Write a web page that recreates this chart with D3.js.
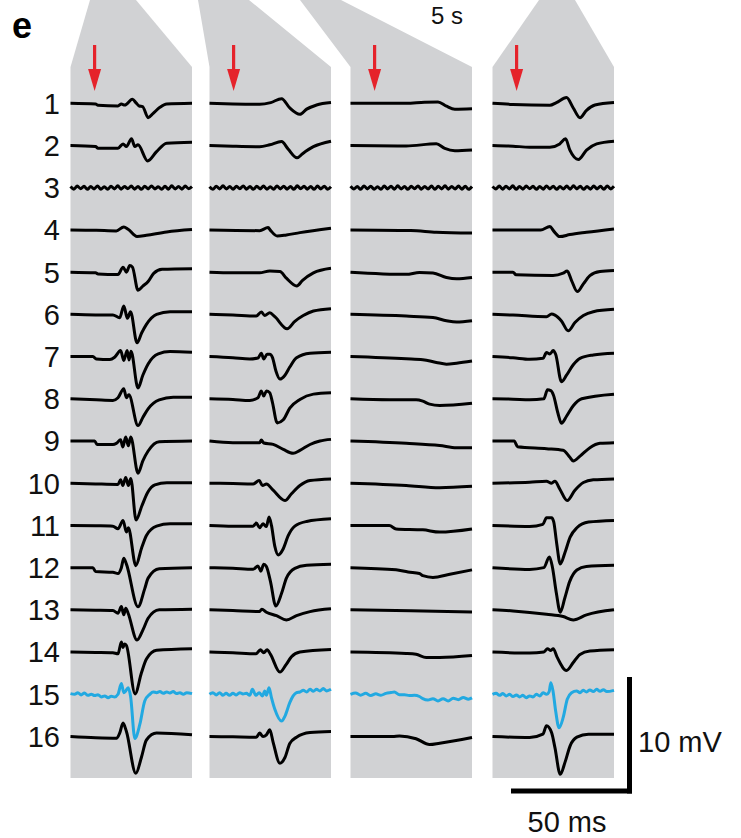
<!DOCTYPE html>
<html><head><meta charset="utf-8">
<script src="https://cdn.jsdelivr.net/npm/d3@7"></script>
<style>body{margin:0;background:#fff}svg{display:block}</style>
</head><body><svg id="c" width="741" height="838"></svg>
<script>
// ---------- data ----------
const rowLabels = ["1","2","3","4","5","6","7","8","9","10","11","12","13","14","15","16"];
const highlightRow = 15;
const stimTime = 10;           // ms, red arrows
const windowMs = 50.4;         // ms shown per panel
const scaleBarMs = 50, scaleBarMv = 10;
const scaleBarLabels = ["10 mV", "50 ms"];
const overviewLabel = "5 s";
const panelLetter = "e";

// pickup noise on row 3 (mV, one value every 1.4 ms)
const noiseStep = 1.4;
const noiseP1 = [0.1,-0.12,0.14,-0.08,0.12,-0.14,0.1,-0.1,0.15,-0.12,0.08,-0.14,0.12,-0.1,0.16,-0.12,0.1,-0.08,0.14,-0.12,0.1,-0.14,0.12,-0.1,0.15,-0.1,0.08,-0.14,0.12,-0.12,0.16,-0.1,0.1,-0.12,0.14,-0.08,0.1];
const noiseP2 = [0.08,-0.14,0.12,-0.1,0.16,-0.1,0.1,-0.13,0.12,-0.08,0.15,-0.12,0.1,-0.14,0.12,-0.1,0.14,-0.12,0.08,-0.14,0.15,-0.1,0.12,-0.12,0.1,-0.14,0.16,-0.08,0.12,-0.12,0.1,-0.14,0.14,-0.1,0.12,-0.12,0.08];
const noiseP3 = [0.12,-0.1,0.1,-0.14,0.15,-0.1,0.12,-0.12,0.08,-0.14,0.14,-0.1,0.12,-0.12,0.16,-0.1,0.1,-0.14,0.12,-0.08,0.15,-0.12,0.1,-0.1,0.14,-0.14,0.12,-0.1,0.16,-0.12,0.1,-0.1,0.14,-0.12,0.12,-0.14,0.1];
const noiseP4 = [0.1,-0.1,0.14,-0.12,0.12,-0.1,0.16,-0.14,0.1,-0.12,0.14,-0.08,0.12,-0.14,0.1,-0.12,0.15,-0.1,0.12,-0.14,0.1,-0.1,0.14,-0.12,0.16,-0.1,0.12,-0.14,0.1,-0.12,0.14,-0.1,0.12,-0.14,0.15,-0.1,0.12];
const toPairs = vals => vals.map((v, i) => [i * noiseStep, v]);

// traces: [time ms, mV relative to row baseline]
const panel1 = [
 [[0,0],[10.4,-0.06],[11.4,-0.17],[19.7,-0.23],[21.1,-0.06],[22.5,-0.15],[25.7,0.34],[27.1,0.06],[28.5,-0.23],[29.9,-0.28],[32.2,-1.23],[34.3,-0.86],[37.1,-0.34],[39.9,-0.06],[50.4,0]],
 [[0,0],[10.4,-0.09],[11.4,-0.23],[19.7,-0.23],[21.8,0.14],[23.2,-0.09],[25.3,0.57],[26.7,-0.09],[28,0.06],[32,-1.32],[35.7,-0.52],[39.9,0.2],[50.4,0.29]],
 toPairs(noiseP1),
 [[0,0],[10.7,-0.03],[19,-0.09],[22.1,0.26],[23.9,0.06],[27.6,-0.57],[31.5,-0.46],[39.9,-0.17],[50.4,0.03]],
 [[0,0],[10.4,-0.06],[11.4,-0.15],[19.7,-0.2],[21.8,0.43],[23.2,0],[24.6,0.57],[25.7,0.43],[28,-1.55],[30,-1.2],[32.2,-0.8],[34.5,-0.1],[38,0.25],[50.4,0.3]],
 [[0,0],[10.4,-0.05],[17.6,-0.05],[20.4,-0.29],[22.1,0.72],[23.6,-0.34],[24.9,0.23],[27.6,-2.44],[29.5,-1.6],[31.5,-0.86],[35.7,0],[41.3,0.23],[50.4,0.23]],
 [[0,0],[9.3,0],[10.7,-0.2],[16.3,-0.26],[18.3,-0.06],[20.8,0.52],[22.1,-0.34],[23.5,0.52],[24.3,-0.29],[25.1,0.46],[28,-2.7],[30,-1.6],[32.2,-0.63],[36.4,0.23],[41.3,0.43],[50.4,0.37]],
 [[0,0],[10.7,-0.09],[17.6,-0.14],[19.7,0.09],[22.1,0.86],[23.2,0.09],[24.2,0.34],[28,-2.3],[30,-1.6],[32.2,-0.86],[36.8,-0.09],[42.6,0.14],[50.4,0.14]],
 [[0,0],[10,0],[11,-0.29],[17.6,-0.29],[19,-0.2],[20.8,0.1],[21.7,-0.52],[22.9,0.34],[24,-0.4],[25,0.34],[28,-2.76],[30,-1.7],[32.2,-0.86],[36.8,-0.06],[50.4,0]],
 [[0,0],[10.4,-0.06],[19.7,-0.1],[20.8,0.3],[21.7,-0.2],[22.9,0.5],[24,-0.2],[25,0.4],[27.2,-3.16],[29.5,-2],[32,-0.8],[35,-0.15],[40,0.05],[50.4,0.05]],
 [[0,0],[10.4,-0.03],[17.6,-0.06],[19.7,-0.29],[21.8,0.43],[23.2,-0.57],[24,-0.2],[27.1,-3.45],[29.4,-2],[31.5,-0.86],[35.7,-0.06],[41.3,0.14],[50.4,0.14]],
 [[0,0],[9.3,0],[10.4,-0.34],[17.6,-0.4],[19.7,-0.5],[21.1,0],[22.1,0.8],[23.2,0.3],[28,-3.36],[30.8,-1.8],[32.2,-0.9],[36.8,-0.1],[50.4,0]],
 [[0,0],[10.4,-0.03],[17.6,-0.06],[19.7,-0.29],[21.1,0.29],[22.1,-0.43],[22.9,0.14],[23.9,-0.29],[27.6,-2.59],[30.1,-1.7],[32.2,-0.72],[36.8,0],[50.4,0.06]],
 [[0,0],[10.4,-0.03],[17.6,-0.06],[19.7,-0.15],[21.1,0.86],[21.8,0.4],[22.4,0.7],[23.2,0.57],[26.8,-3.59],[29.4,-1.8],[31.5,-0.6],[35.7,0.15],[50.4,0.29]],
 [[0,0.06],[1.7,0],[3.05,0.14],[4.4,-0.06],[5.8,0.11],[7.2,-0.09],[8.6,0],[10,-0.11],[11.4,-0.03],[12.8,-0.23],[14.2,-0.14],[15.6,-0.29],[16.9,-0.17],[18.3,-0.23],[19.7,0],[21.1,0.92],[22.1,0.14],[22.9,0.29],[23.9,0.57],[24.9,-0.14],[26.7,-3.79],[28.75,-2.59],[30.8,-0.57],[32.9,0],[34.3,0.2],[35.7,0.14],[37.1,0.23],[38.5,0.09],[39.9,0.2],[41.25,0.11],[42.6,0.23],[44,0.06],[45.4,0.14],[46.8,0],[48.2,0.14],[50.4,0.06]],
 [[0,0],[10.4,-0.1],[19.2,-0.14],[20.4,0.29],[21.8,1.15],[23.2,0.43],[27.1,-3.16],[29.4,-1.8],[31.5,-0.3],[35.7,0.29],[50.4,0.14]]
];

const panel2 = [
 [[0,0],[9.7,-0.06],[20.8,-0.09],[25.4,0.06],[29.9,0.4],[33.3,-0.4],[37.5,-0.95],[40.3,-0.5],[44.4,-0.15],[50.4,0.06]],
 [[0,0],[9.7,-0.06],[20.8,-0.1],[25,0.06],[29.9,0.34],[32.6,-0.3],[36.3,-1.06],[38.6,-0.7],[43.1,-0.1],[50.4,0.37]],
 toPairs(noiseP2),
 [[0,0],[20.8,-0.06],[24.3,0.2],[25.4,-0.06],[28.1,-0.52],[31.9,-0.43],[37.5,-0.23],[50.4,0.14]],
 [[0,0],[9.7,-0.06],[20.8,-0.06],[25,0.1],[29.2,0.06],[31.9,-0.52],[36.2,-1.18],[38.6,-0.7],[43.1,-0.06],[50.4,0.34]],
 [[0,0],[9.7,-0.06],[19.4,-0.14],[21.5,0.2],[22.9,-0.09],[25,0.14],[27.1,-0.2],[32.2,-1.24],[35.4,-0.6],[38.9,-0.1],[43.1,0.29],[50.4,0.49]],
 [[0,0],[9.7,-0.1],[16.7,-0.2],[20.1,-0.12],[21.5,0.29],[22.5,-0.2],[23.9,0.2],[25,0.2],[26.1,-0.06],[27.5,-1.2],[29.2,-1.93],[31.3,-1.6],[33.3,-0.9],[36.1,-0.1],[41.7,0.29],[50.4,0.37]],
 [[0,0],[9.7,-0.06],[16.7,-0.14],[20.1,0.09],[21.5,0.66],[22.5,0.23],[23.6,0.66],[25,0.52],[26.1,-0.3],[28.1,-2.07],[30.6,-1.8],[33.3,-0.8],[37.5,-0.06],[43.1,0.4],[50.4,0.52]],
 [[0,0],[9.7,-0.14],[20.8,-0.14],[21.5,0.09],[22.5,-0.17],[26.4,-0.29],[30.6,-0.72],[34.7,-1.06],[37.5,-0.8],[41.7,-0.3],[45.8,0],[50.4,0.14]],
 [[0,0],[9.7,-0.03],[18.1,-0.06],[20.6,0.23],[22,-0.2],[23.6,-0.06],[26.4,-0.6],[31.3,-1.49],[34,-0.9],[37.5,-0.2],[41.7,0.23],[50.4,0.37]],
 [[0,0],[9.7,-0.06],[18.1,-0.06],[19.4,0.2],[20.8,-0.2],[22.2,0.14],[23.6,-0.1],[24.7,0.72],[25.7,0],[27.1,-1.8],[28.5,-2.53],[30.6,-2],[32.6,-0.9],[35.4,-0.06],[40.3,0.34],[50.4,0.57]],
 [[0,0],[9.7,-0.06],[18.1,-0.14],[20.1,0.14],[21.3,-0.3],[22.5,0.29],[23.6,0.1],[25.3,-1.2],[27.5,-3.3],[29.9,-2.2],[31.9,-0.9],[35.4,-0.06],[40.3,0.2],[50.4,0.29]],
 [[0,0],[9.7,-0.06],[20.8,-0.14],[21.7,0.06],[23.6,-0.2],[27.8,-0.5],[31.9,-0.86],[36.1,-0.5],[41.7,-0.15],[50.4,0.09]],
 [[0,0],[9.7,-0.06],[19.4,-0.14],[21.1,0.2],[22.5,-0.06],[23.9,0.2],[25.3,-0.2],[29.2,-1.72],[31.7,-1.1],[34,-0.4],[37.5,0],[50.4,0.23]],
 [[0,0],[1.4,0.14],[2.8,-0.06],[4.2,0.14],[5.6,-0.09],[6.9,0.09],[8.3,-0.09],[9.7,0.09],[11.1,-0.06],[12.5,0.14],[13.9,0.03],[15.3,0.09],[16.7,-0.09],[17.8,0.43],[19.2,-0.09],[20.6,0.14],[22,-0.14],[22.9,0.29],[23.6,-0.09],[24.7,0.57],[25.7,-0.29],[27.1,-1.29],[29.9,-2.3],[31.3,-1.87],[33.3,-0.72],[34.7,-0.14],[36.1,0.14],[37.5,0.2],[38.9,0.34],[40.3,0.2],[41.7,0.43],[43.1,0.26],[44.4,0.43],[45.8,0.29],[47.2,0.49],[48.6,0.29],[50.4,0.43]],
 [[0,0],[9.7,-0.03],[19.4,-0.06],[20.8,0.29],[22.2,0],[23.6,0.14],[25,0.57],[26.4,-0.5],[29.2,-2.3],[31.3,-1.8],[33.3,-0.6],[36.1,-0.06],[41.7,0.34],[50.4,0.43]]
];

const panel3 = [
 [[0,0],[23.1,0],[30.7,0.1],[36.3,0.12],[39.8,-0.25],[43.3,-0.5],[50.4,-0.46]],
 [[0,0],[23.1,-0.04],[35.6,0.15],[39.1,-0.25],[43.3,-0.45],[50.4,-0.38]],
 toPairs(noiseP3),
 [[0,0],[25,-0.05],[35.6,-0.2],[50.4,-0.27]],
 [[0,0],[23.1,-0.19],[28.6,-0.04],[34.2,-0.08],[39.8,-0.46],[44,-0.57],[50.4,-0.46]],
 [[0,0],[23.1,-0.15],[34.2,-0.27],[39.8,-0.54],[44,-0.65],[50.4,-0.54]],
 [[0,0],[23.1,-0.19],[30,-0.27],[35.6,-0.5],[39.8,-0.65],[44,-0.57],[50.4,-0.38]],
 [[0,0],[16.1,-0.08],[27.2,-0.08],[30,-0.2],[32.8,-0.46],[37,-0.57],[50.4,-0.38]],
 [[0,0],[23.1,-0.19],[37,-0.38],[44,-0.57],[50.4,-0.57]],
 [[0,0],[23.1,-0.19],[37,-0.38],[50.4,-0.27]],
 [[0,0],[16.1,0],[18.9,-0.3],[30,-0.38],[37,-0.57],[50.4,-0.3]],
 [[0,0],[18.9,-0.19],[23.9,-0.38],[28.6,-0.5],[30,-0.69],[34.2,-0.84],[41.2,-0.57],[50.4,-0.19]],
 [[0,0],[25,-0.08],[50.4,-0.19]],
 [[0,0],[23.1,-0.12],[27.2,-0.19],[31.4,-0.46],[37,-0.46],[50.4,-0.3]],
 [[0,0],[2.1,0.11],[4.2,-0.08],[6.3,0.08],[8.4,-0.11],[10.5,0.04],[12.6,-0.08],[14.7,0.08],[16.8,0.15],[18.2,0.19],[20.3,-0.04],[22.4,-0.04],[24.4,-0.11],[26.5,-0.08],[28.6,-0.19],[30,-0.38],[32.1,-0.5],[34.2,-0.38],[36.3,-0.57],[38.4,-0.38],[40.5,-0.57],[42.6,-0.34],[44.7,-0.46],[46.8,-0.27],[48.9,-0.42],[50.4,-0.31]],
 [[0,0],[17.5,0],[20.3,0.05],[27.2,-0.19],[32.8,-0.69],[37,-0.57],[50.4,-0.08]]
];

const panel4 = [
 [[0,0],[8.5,-0.1],[23.8,-0.17],[26.5,0.06],[30.7,0.49],[33.5,-0.4],[36.3,-1.24],[39,-0.6],[42.5,-0.15],[50.4,0.06]],
 [[0,0],[8.5,-0.06],[15.4,-0.14],[23.8,-0.14],[27.9,0.14],[30.3,0.57],[32.1,-0.4],[35.6,-1.2],[39,-0.4],[43.2,0.14],[50.4,0.37]],
 toPairs(noiseP4),
 [[0,0],[20,0],[23.8,0.29],[25.4,-0.1],[27.9,-0.57],[32.1,-0.4],[39,-0.2],[50.4,0.09]],
 [[0,0],[8.5,0],[9.8,-0.23],[25.1,-0.29],[29.3,-0.09],[31,0.09],[32.8,-0.72],[35.2,-1.67],[37.7,-1],[40.4,-0.3],[44.6,0.06],[50.4,0.14]],
 [[0,0],[8.5,-0.06],[22.4,-0.2],[24.5,0.03],[25.9,-0.06],[28.6,-0.57],[31.4,-1.41],[34.2,-0.7],[37.7,-0.1],[41.8,0.23],[50.4,0.43]],
 [[0,0],[8.5,-0.1],[15.4,-0.23],[21,-0.14],[22.4,0.34],[23.8,0.23],[25.2,0.52],[26.2,0.2],[28.6,-2.16],[30.7,-1.6],[33.5,-0.7],[36.3,-0.15],[41.8,0.14],[50.4,0.29]],
 [[0,0],[8.5,-0.03],[15.4,-0.09],[21.3,0],[22.8,0.77],[24.2,0.7],[25.3,0.3],[27.1,-1.2],[28.6,-2.1],[30.7,-1.5],[33.5,-0.6],[37,0],[50.4,0.4]],
 [[0,0],[9,0],[10.4,-0.49],[22.4,-0.66],[29.3,-0.8],[32.1,-1.4],[33.5,-1.72],[36.3,-1.3],[40.4,-0.57],[44.6,-0.2],[50.4,-0.14]],
 [[0,0],[15.4,0.09],[22.4,0.17],[24.5,0],[25.9,0.17],[27.9,-0.49],[31,-1.49],[34.2,-0.6],[37.7,0.06],[41.8,0.29],[50.4,0.37]],
 [[0,0],[15.4,-0.09],[20.9,0.09],[22.4,0.66],[24.5,0.66],[25.4,0.3],[26.6,-1.5],[28.1,-3.3],[30.1,-2.3],[32.2,-1],[35,-0.2],[39.8,0.29],[50.4,0.43]],
 [[0,0],[15.4,-0.15],[21.3,0],[23.6,0.92],[24.8,0.1],[26.5,-2.2],[28.1,-3.82],[30,-2.6],[32,-1.2],[35,-0.2],[38.9,0.1],[50.4,0.2]],
 [[0,0],[8.5,-0.09],[22.4,-0.37],[29.3,-0.57],[33.5,-0.86],[39,-0.43],[50.4,0]],
 [[0,0],[15.4,-0.09],[21.3,0],[22.8,0.29],[24.2,0.14],[25.2,0.29],[26.8,-0.43],[30.7,-1.58],[33.5,-0.9],[36.3,-0.2],[40.4,0.09],[50.4,0.2]],
 [[0,0],[1.5,0.09],[2.9,-0.09],[4.3,0.06],[5.7,-0.14],[7.1,0],[8.5,-0.2],[9.9,-0.06],[11.25,-0.23],[12.6,-0.09],[14,-0.29],[15.4,-0.14],[16.8,-0.23],[18.2,0],[19.6,-0.14],[21,0.14],[22.4,0],[23.5,0.23],[24.2,1.0],[25.1,0.29],[26.2,-1.44],[27.6,-2.87],[29.3,-2.01],[31,-0.43],[32.8,0.14],[34.9,0.29],[36.3,0.14],[37.6,0.34],[39,0.2],[40.4,0.37],[41.8,0.23],[43.2,0.43],[44.6,0.26],[46,0.4],[47.4,0.23],[50.4,0.34]],
 [[0,0],[15.4,-0.09],[20.9,0.2],[22.4,0.92],[24.5,0.34],[25.9,-0.95],[28.1,-3.25],[30.1,-2.2],[32.2,-0.8],[35,-0.06],[39.8,0.2],[50.4,0.2]]
];

// ---------- layout ----------
const panelLefts = [70.5, 209.5, 350.5, 492.5];
const panelWidth = 121.5;
const panelTopFunnel = [[90,136],[198,249],[300,341],[539,575]];
const panelTop = 67, panelBottom = 778;
const grey = "#d1d2d4", blue = "#22a9e1", red = "#e5232b";
const font = "'Liberation Sans', Arial, Helvetica, sans-serif";
const labelSize = 29;

const svg = d3.select("#c");
const rowY = d3.scaleLinear().domain([1, 16]).range([103.3, 736.5]);
const mv = d3.scaleLinear().domain([0, 10]).range([0, -116.5]);   // offset in px
const msLen = d3.scaleLinear().domain([0, 50]).range([0, 121]);

const panels = [panel1, panel2, panel3, panel4];

panels.forEach((traces, p) => {
  const left = panelLefts[p], right = left + panelWidth;
  const x = d3.scaleLinear().domain([0, windowMs]).range([left, right]);
  const [tl, tr] = panelTopFunnel[p];
  svg.append("path")
    .attr("d", d3.line()([[tl, 0], [tr, 0], [right, panelTop], [right, panelBottom], [left, panelBottom], [left, panelTop]]) + "Z")
    .attr("fill", grey);

  // stimulus arrow
  const ax = x(stimTime);
  svg.append("line").attr("x1", ax).attr("x2", ax).attr("y1", 45).attr("y2", 74)
    .attr("stroke", red).attr("stroke-width", 3.2);
  svg.append("path").attr("d", d3.line()([[ax - 6.5, 69], [ax + 6.5, 69], [ax, 91]]) + "Z").attr("fill", red);

  traces.forEach((tr, i) => {
    const r = i + 1;
    const base = rowY(r);
    const line = d3.line().x(d => x(d[0])).y(d => base + mv(d[1])).curve(d3.curveMonotoneX);
    svg.append("path").attr("d", line(tr)).attr("fill", "none")
      .attr("stroke", r === highlightRow ? blue : "#000")
      .attr("stroke-width", 3)
      .attr("stroke-linejoin", "round");
  });
});

// row labels
svg.append("g").selectAll("text").data(rowLabels).join("text")
  .attr("x", 60).attr("y", (d, i) => rowY(i + 1) + 10.4)
  .attr("text-anchor", "end").attr("font-family", font).attr("font-size", labelSize)
  .attr("fill", "#111").text(d => d);

// letter + overview label
svg.append("text").attr("x", 12).attr("y", 38).attr("font-family", font)
  .attr("font-weight", "bold").attr("font-size", 36).attr("fill", "#000").text(panelLetter);
svg.append("text").attr("x", 431).attr("y", 24).attr("font-family", font)
  .attr("font-size", 24).attr("fill", "#111").text(overviewLabel);

// scale bar
const barX = 629.5, barY = 791;
svg.append("line").attr("x1", barX).attr("x2", barX).attr("y1", barY + 2.5).attr("y2", barY + 2.5 + mv(scaleBarMv))
  .attr("stroke", "#000").attr("stroke-width", 5);
svg.append("line").attr("x1", barX + 2.5).attr("x2", barX + 2.5 - msLen(scaleBarMs)).attr("y1", barY).attr("y2", barY)
  .attr("stroke", "#000").attr("stroke-width", 5);
svg.append("text").attr("x", 638).attr("y", 752).attr("font-family", font).attr("font-size", labelSize)
  .attr("fill", "#111").text(scaleBarLabels[0]);
svg.append("text").attr("x", barX - msLen(scaleBarMs) / 2 - 2).attr("y", 832).attr("text-anchor", "middle")
  .attr("font-family", font).attr("font-size", labelSize).attr("fill", "#111").text(scaleBarLabels[1]);
</script>
</body></html>
